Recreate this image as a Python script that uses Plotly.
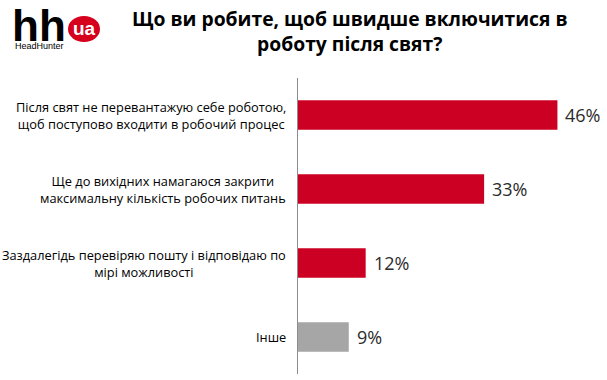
import plotly.graph_objects as go

categories = [
    "Після свят не перевантажую себе роботою,<br>щоб поступово входити в робочий процес",
    "Ще до вихідних намагаюся закрити<br>максимальну кількість робочих питань",
    "Заздалегідь перевіряю пошту і відповідаю по<br>мірі можливості",
    "Інше",
]
values = [46, 33, 12, 9]
bar_colors = ["#CC0022", "#CC0022", "#CC0022", "#A6A6A6"]
title_text = "<b>Що ви робите, щоб швидше включитися в<br>роботу після свят?</b>"

W, H = 607, 380
L, R, T, B = 298, 0, 78, 6
pw, ph = W - L - R, H - T - B

def px_x(x):
    return (x - L) / pw

def px_y(y):
    return (H - B - y) / ph

fig = go.Figure()
fig.add_trace(go.Bar(
    x=values, y=categories, orientation="h",
    marker=dict(color=bar_colors, line=dict(width=0)),
    hoverinfo="skip",
))

annotations = []
for c, v in zip(categories, values):
    annotations.append(dict(
        x=0, y=c, xref="paper", yref="y", text=c, showarrow=False,
        xanchor="right", yanchor="middle", align="center", xshift=-10,
        font=dict(family="Open Sans", size=12.8, color="#000000"),
    ))
    annotations.append(dict(
        x=v, y=c, xref="x", yref="y", text=f"{v}%", showarrow=False,
        xanchor="left", yanchor="middle", xshift=6,
        font=dict(family="Open Sans", size=18, color="#2B2B2B"),
    ))

# title
annotations.append(dict(
    x=px_x(350), y=px_y(3), xref="paper", yref="paper", text=title_text,
    showarrow=False, xanchor="center", yanchor="top", align="center",
    font=dict(family="Open Sans", size=19.3, color="#000000"),
))
# logo
annotations.append(dict(
    x=px_x(39), y=px_y(25), xref="paper", yref="paper", text="<b>hh</b>",
    showarrow=False, xanchor="center", yanchor="middle",
    font=dict(family="Liberation Sans", size=44, color="#000000"),
))
annotations.append(dict(
    x=px_x(39), y=px_y(46), xref="paper", yref="paper", text="HeadHunter",
    showarrow=False, xanchor="center", yanchor="middle",
    font=dict(family="Liberation Sans", size=9, color="#000000"),
))
annotations.append(dict(
    x=px_x(84.5), y=px_y(28), xref="paper", yref="paper", text="<b>ua</b>",
    showarrow=False, xanchor="center", yanchor="middle",
    font=dict(family="Liberation Sans", size=19, color="#FFFFFF"),
))

shapes = [dict(
    type="circle", xref="paper", yref="paper",
    xsizemode="pixel", ysizemode="pixel",
    xanchor=px_x(84), yanchor=px_y(29),
    x0=-16, x1=16, y0=-13, y1=13,
    fillcolor="#D6001C", line=dict(width=0), layer="below",
)]

fig.update_layout(
    width=W, height=H,
    margin=dict(l=L, r=R, t=T, b=B),
    paper_bgcolor="white", plot_bgcolor="white",
    showlegend=False,
    bargap=0.6,
    annotations=annotations,
    shapes=shapes,
    xaxis=dict(range=[0, pw / 5.64], visible=False, fixedrange=True),
    yaxis=dict(autorange="reversed", showticklabels=False, ticks="",
               showline=True, linecolor="#8C8C8C", linewidth=1,
               showgrid=False, zeroline=False, fixedrange=True),
)

fig.write_html(
    "out.html",
    config={"displayModeBar": False},
    post_script="document.body.style.margin='0';document.body.style.overflow='hidden';",
)
